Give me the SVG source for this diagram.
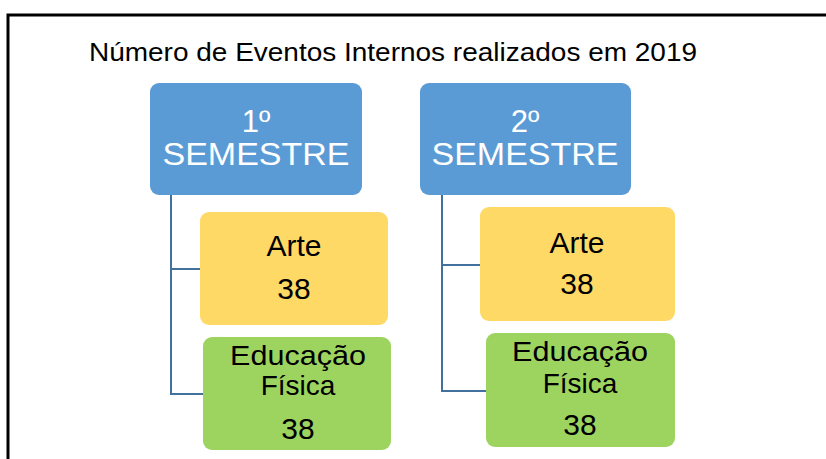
<svg xmlns="http://www.w3.org/2000/svg" width="826" height="459" viewBox="0 0 826 459">
<style>
.frame{stroke:#000;stroke-width:3;fill:none}
.sem{fill:#5B9BD5}
.arte{fill:#FFD966}
.edu{fill:#9DD45F}
.semt{font-family:"Liberation Sans",Arial,sans-serif;font-size:31px;fill:#fff;text-anchor:middle}
.t{font-family:"Liberation Sans",Arial,sans-serif;font-size:30px;fill:#000;text-anchor:middle}
.t2{font-family:"Liberation Sans",Arial,sans-serif;font-size:28px;fill:#000;text-anchor:middle}
.title{font-family:"Liberation Sans",Arial,sans-serif;font-size:25px;fill:#000}
.con{stroke:#41719C;stroke-width:2;fill:none}
</style>
<rect width="826" height="459" fill="#fff"/>
<path class="frame" d="M8 459 V15 H826"/>
<text class="title" x="89" y="61" textLength="608" lengthAdjust="spacingAndGlyphs">Número de Eventos Internos realizados em 2019</text>
<g id="connectors">
<path class="con" d="M171 195 V394 H203 M171 269 H200"/>
<path class="con" d="M442 195 V391 H486 M442 265 H480"/>
</g>
<g id="sem1">
<rect class="sem" x="150" y="83" width="212" height="112" rx="9"/>
<text class="semt" x="256" y="132">1º</text>
<text class="semt" x="256" y="165" textLength="187" lengthAdjust="spacingAndGlyphs">SEMESTRE</text>
</g>
<g id="sem2">
<rect class="sem" x="420" y="83" width="211" height="112" rx="9"/>
<text class="semt" x="525" y="132">2º</text>
<text class="semt" x="525" y="165" textLength="187" lengthAdjust="spacingAndGlyphs">SEMESTRE</text>
</g>
<g id="arte1">
<rect class="arte" x="200" y="212" width="188" height="113" rx="9"/>
<text class="t" x="294" y="256">Arte</text>
<text class="t" x="294" y="299">38</text>
</g>
<g id="edu1">
<rect class="edu" x="203" y="337" width="188" height="113" rx="9"/>
<text class="t2" x="298" y="365" textLength="136" lengthAdjust="spacingAndGlyphs">Educação</text>
<text class="t2" x="298" y="395">Física</text>
<text class="t" x="298" y="439">38</text>
</g>
<g id="arte2">
<rect class="arte" x="480" y="207" width="195" height="114" rx="9"/>
<text class="t" x="577" y="253">Arte</text>
<text class="t" x="577" y="294">38</text>
</g>
<g id="edu2">
<rect class="edu" x="486" y="333" width="189" height="114" rx="9"/>
<text class="t2" x="580" y="361" textLength="136" lengthAdjust="spacingAndGlyphs">Educação</text>
<text class="t2" x="580" y="393">Física</text>
<text class="t" x="580" y="435">38</text>
</g>
</svg>
